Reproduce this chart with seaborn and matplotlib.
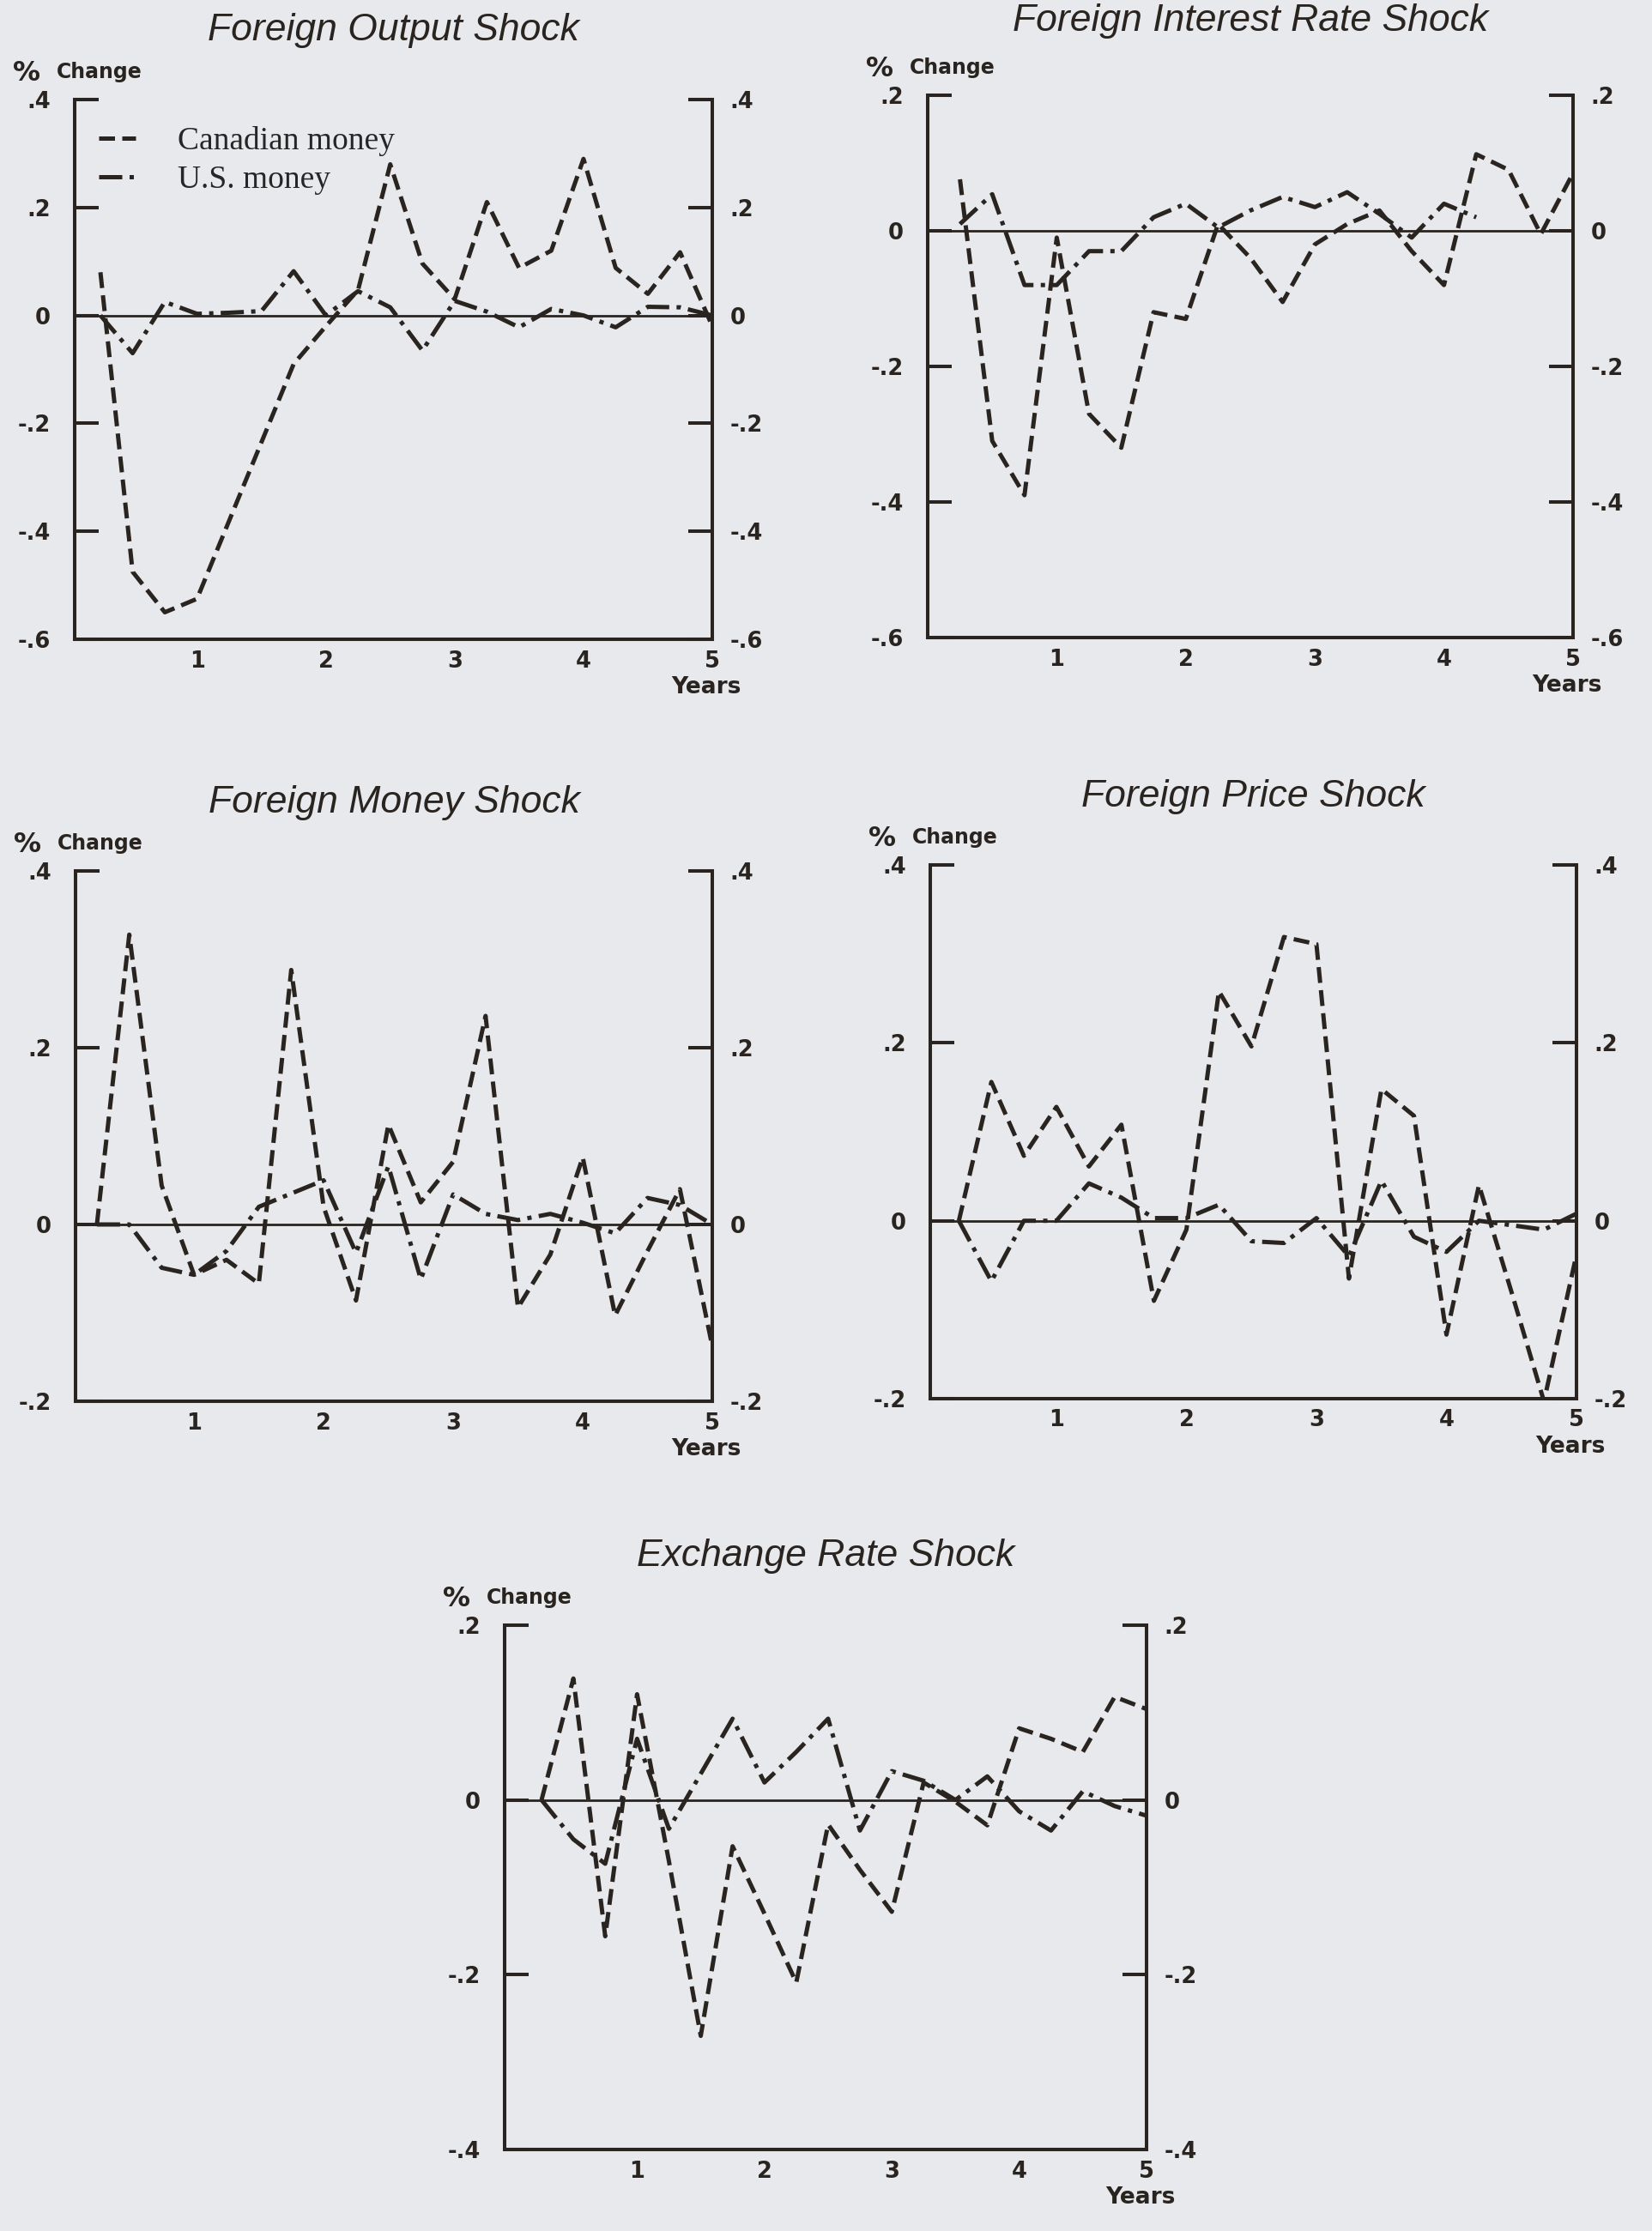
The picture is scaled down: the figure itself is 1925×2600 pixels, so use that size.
import matplotlib
matplotlib.use("Agg")
import matplotlib.pyplot as plt
import pandas as pd
import seaborn as sns
from matplotlib.ticker import FuncFormatter

# ---------------- data ----------------
years = [0.25, 0.5, 0.75, 1.0, 1.25, 1.5, 1.75, 2.0, 2.25, 2.5,
         2.75, 3.0, 3.25, 3.5, 3.75, 4.0, 4.25, 4.5, 4.75, 5.0]

output_can = [0.08, -0.475, -0.55, -0.525, -0.38, -0.235, -0.09, -0.02, 0.047, 0.28,
              0.096, 0.03, 0.21, 0.088, 0.12, 0.29, 0.088, 0.04, 0.117, -0.02]
output_us = [0.0, -0.07, 0.025, 0.003, 0.005, 0.008, 0.082, 0.0, 0.045, 0.015,
             -0.065, 0.027, 0.007, -0.022, 0.012, 0.0, -0.022, 0.016, 0.015, 0.0]

interest_can = [0.076, -0.31, -0.39, -0.01, -0.27, -0.32, -0.12, -0.13, 0.01, -0.04,
                -0.105, -0.02, 0.01, 0.03, -0.03, -0.08, 0.113, 0.09, -0.005, 0.085]
interest_us = [0.01, 0.054, -0.08, -0.08, -0.03, -0.03, 0.02, 0.04, 0.005, 0.03,
               0.05, 0.035, 0.057, 0.025, -0.01, 0.04, 0.02]

money_can = [0.0, 0.328, 0.044, -0.057, -0.04, -0.067, 0.288, 0.02, -0.086, 0.113,
             0.025, 0.071, 0.236, -0.094, -0.034, 0.076, -0.103, -0.03, 0.04, -0.138]
money_us = [0.0, 0.0, -0.049, -0.057, -0.03, 0.02, 0.035, 0.05, -0.032, 0.066,
            -0.062, 0.034, 0.012, 0.005, 0.012, 0.002, -0.01, 0.03, 0.022, 0.0]

price_can = [0.0, 0.156, 0.073, 0.128, 0.061, 0.108, -0.09, -0.01, 0.258, 0.196,
             0.319, 0.311, -0.065, 0.148, 0.118, -0.128, 0.04, -0.08, -0.203, -0.038]
price_us = [0.0, -0.068, 0.0, 0.0, 0.042, 0.026, 0.003, 0.003, 0.018, -0.023,
            -0.025, 0.003, -0.04, 0.045, -0.018, -0.035, 0.0, -0.005, -0.01, 0.008]

exch_can = [0.0, 0.139, -0.156, 0.121, -0.07, -0.27, -0.053, -0.13, -0.209, -0.028,
            -0.08, -0.128, 0.02, -0.002, -0.029, 0.082, 0.07, 0.055, 0.118, 0.104]
exch_us = [0.0, -0.045, -0.073, 0.07, -0.033, 0.03, 0.093, 0.02, 0.055, 0.093,
           -0.035, 0.033, 0.022, 0.0, 0.027, -0.013, -0.035, 0.01, -0.007, -0.018]

titles = ["Foreign Output Shock", "Foreign Interest Rate Shock", "Foreign Money Shock",
          "Foreign Price Shock", "Exchange Rate Shock"]
series_names = ["Canadian money", "U.S. money"]
x_ticks = [1, 2, 3, 4, 5]
x_ticklabels = ["1", "2", "3", "4", "5"]

panels = [
    dict(can=output_can, us=output_us, ylim=(-0.6, 0.4), yticks=[-0.6, -0.4, -0.2, 0, 0.2, 0.4]),
    dict(can=interest_can, us=interest_us, ylim=(-0.6, 0.2), yticks=[-0.6, -0.4, -0.2, 0, 0.2]),
    dict(can=money_can, us=money_us, ylim=(-0.2, 0.4), yticks=[-0.2, 0, 0.2, 0.4]),
    dict(can=price_can, us=price_us, ylim=(-0.2, 0.4), yticks=[-0.2, 0, 0.2, 0.4]),
    dict(can=exch_can, us=exch_us, ylim=(-0.4, 0.2), yticks=[-0.4, -0.2, 0, 0.2]),
]

# ---------------- layout / style ----------------
W, H = 1925, 2600
# (left, right, top, bottom) in pixels, and x-axis left limit
boxes = [(87, 830, 116, 745, 0.05),
         (1081, 1833, 111, 743, 0.0),
         (88, 830, 1015, 1633, 0.085),
         (1084, 1837, 1008, 1630, 0.03),
         (588, 1336, 1894, 2505, -0.04)]
title_off = [58, 62, 57, 57, 58]

BG = "#e8e9ed"
INK = "#29241f"
LW = 3.6
SP = 2.9
dashes = {"Canadian money": (3.7, 1.7), "U.S. money": (5.4, 1.7, 1.0, 1.7)}

sns.set_style("white")
plt.rcParams["font.family"] = ["DejaVu Sans"]

fig = plt.figure(figsize=(W / 100, H / 100), dpi=100)
fig.patch.set_facecolor(BG)


def yfmt(v, pos=None):
    if abs(v) < 1e-9:
        return "0"
    s = f"{v:.1f}"
    return s.replace("0.", ".")


tick_font = dict(family="DejaVu Sans", weight="bold", size=18.5)
pct_font = dict(family="DejaVu Sans", weight="bold", size=23)
label_font = dict(family="DejaVu Sans", weight="bold", size=17)
years_font = dict(family="DejaVu Sans", weight="bold", size=19)

for i, p in enumerate(panels):
    l, r, t, b, x0 = boxes[i]
    ax = fig.add_axes([l / W, 1 - b / H, (r - l) / W, (b - t) / H])
    ax.set_facecolor(BG)

    n_us = len(p["us"])
    df = pd.DataFrame({
        "Years": years + years[:n_us],
        "value": p["can"] + p["us"],
        "series": [series_names[0]] * len(p["can"]) + [series_names[1]] * n_us,
    })
    ax.axhline(0, color=INK, lw=2.0, zorder=1)
    sns.lineplot(data=df, x="Years", y="value", style="series", dashes=dashes,
                 style_order=series_names, color=INK, linewidth=LW, estimator=None,
                 sort=False, legend=False, ax=ax, zorder=3)

    ax.set_xlim(x0, 5)
    ax.set_ylim(*p["ylim"])
    ax.set_xlabel("")
    ax.set_ylabel("")

    for side in ["top", "right"]:
        ax.spines[side].set_visible(False)
    for side in ["left", "bottom"]:
        ax.spines[side].set_linewidth(SP)
        ax.spines[side].set_color(INK)

    ax.set_xticks(x_ticks)
    ax.set_xticklabels(x_ticklabels)
    ax.tick_params(axis="x", direction="in", length=26, width=SP, color=INK,
                   pad=9, labelcolor=INK)
    ax.set_yticks(p["yticks"])
    ax.yaxis.set_major_formatter(FuncFormatter(yfmt))
    ax.tick_params(axis="y", direction="in", length=20, width=SP, color=INK,
                   pad=20, labelcolor=INK, left=True, right=False)
    for lab in ax.get_xticklabels() + ax.get_yticklabels():
        lab.set_fontproperties(tick_font)

    sec = ax.secondary_yaxis("right")
    sec.set_yticks(p["yticks"])
    sec.yaxis.set_major_formatter(FuncFormatter(yfmt))
    sec.tick_params(axis="y", direction="in", length=20, width=SP, color=INK,
                    pad=15, labelcolor=INK)
    sec.spines["right"].set_linewidth(SP)
    sec.spines["right"].set_color(INK)
    for lab in sec.get_yticklabels():
        lab.set_fontproperties(tick_font)

    ax.annotate(titles[i], xy=(0.5, 1), xycoords="axes fraction",
                xytext=(0, title_off[i]), textcoords="offset points",
                ha="center", va="center", color=INK,
                family="Liberation Sans", style="italic", size=32)
    ax.annotate("%", xy=(0, 1), xycoords="axes fraction",
                xytext=(-52, 22), textcoords="offset points",
                ha="left", va="center", color=INK, **pct_font)
    ax.annotate("Change", xy=(0, 1), xycoords="axes fraction",
                xytext=(-15, 23), textcoords="offset points",
                ha="left", va="center", color=INK, **label_font)
    ax.annotate("Years", xy=(1, 0), xycoords="axes fraction",
                xytext=(-5, -40), textcoords="offset points",
                ha="center", va="center", color=INK, **years_font)

    if i == 0:
        lines = [ln for ln in ax.get_lines() if len(ln.get_xdata()) > 2][:2]
        ax.legend(lines, series_names, loc="upper left", bbox_to_anchor=(0.038, 0.95),
                  frameon=False, borderpad=0, borderaxespad=0, handlelength=1.15,
                  handletextpad=1.3, labelspacing=0.28,
                  prop=dict(family="Liberation Serif", size=27))

fig.savefig("out.png", dpi=100, facecolor=BG)
